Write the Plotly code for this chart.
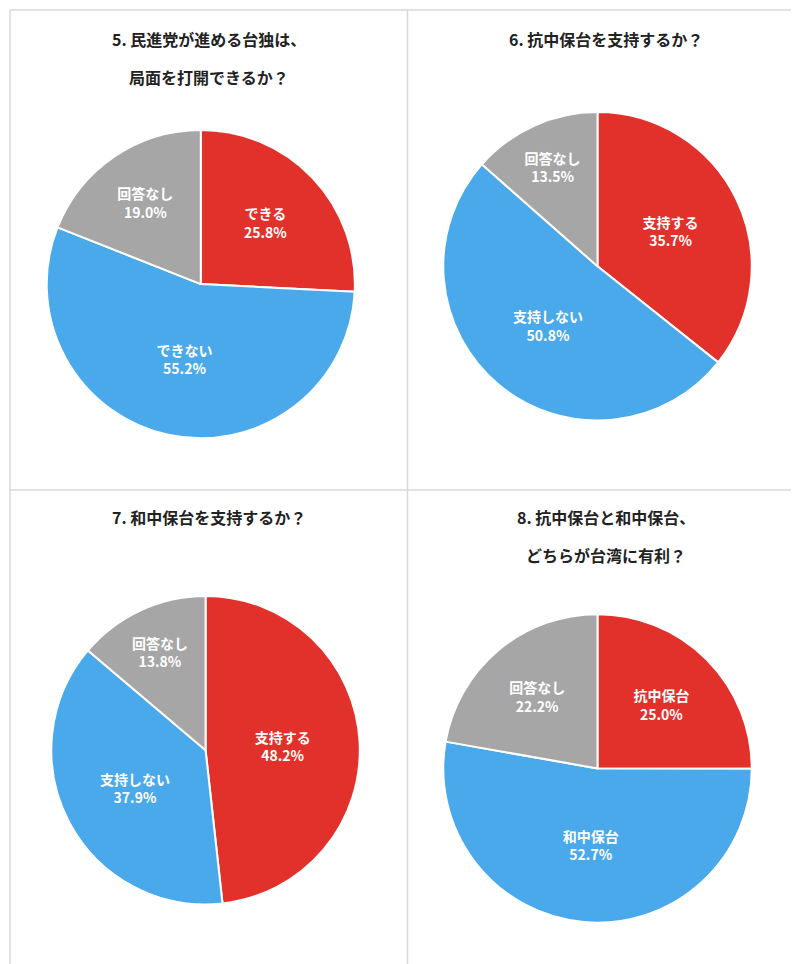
import plotly.graph_objects as go

FONT = "Noto Sans CJK JP"
RED, BLUE, GREY = "#E2312A", "#4AA9EA", "#A6A6A6"

titles = [
    ["5. 民進党が進める台独は、", "局面を打開できるか？"],
    ["6. 抗中保台を支持するか？"],
    ["7. 和中保台を支持するか？"],
    ["8. 抗中保台と和中保台、", "どちらが台湾に有利？"],
]
labels_5 = ["できる", "できない", "回答なし"]
values_5 = [25.8, 55.2, 19.0]
labels_6 = ["支持する", "支持しない", "回答なし"]
values_6 = [35.7, 50.8, 13.5]
labels_7 = ["支持する", "支持しない", "回答なし"]
values_7 = [48.2, 37.9, 13.8]
labels_8 = ["抗中保台", "和中保台", "回答なし"]
values_8 = [25.0, 52.7, 22.2]

panels = [
    (labels_5, values_5, [0.046, 0.434], [0.554, 0.875]),
    (labels_6, values_6, [0.545, 0.933], [0.572, 0.894]),
    (labels_7, values_7, [0.052, 0.440], [0.068, 0.390]),
    (labels_8, values_8, [0.545, 0.933], [0.049, 0.371]),
]

fig = go.Figure()
for labels, values, dx, dy in panels:
    fig.add_pie(
        labels=labels, values=values, sort=False, direction="clockwise",
        domain=dict(x=dx, y=dy),
        marker=dict(colors=[RED, BLUE, GREY], line=dict(color="white", width=2)),
        texttemplate="<b>%{label}<br>%{value:.1f}%</b>", textposition="inside",
        insidetextorientation="horizontal",
        textfont=dict(family=FONT, size=14, color="white"),
        hoverinfo="label+value", showlegend=False,
    )

title_pos = [(0.25, 0.97), (0.75, 0.97), (0.25, 0.472), (0.75, 0.472)]
annotations = []
for lines, (x, y) in zip(titles, title_pos):
    for i, t in enumerate(lines):
        annotations.append(dict(
            text=f"<b>{t}</b>", x=x, y=y - i * 0.04, xref="paper", yref="paper",
            xanchor="center", yanchor="middle", showarrow=False,
            font=dict(family=FONT, size=16, color="#222222")))

line = dict(color="#D9D9D9", width=1.5)
shapes = [
    dict(type="line", xref="paper", yref="paper", x0=0.5, x1=0.5, y0=0, y1=1, line=line),
    dict(type="line", xref="paper", yref="paper", x0=0, x1=1, y0=0.5, y1=0.5, line=line),
    dict(type="rect", xref="paper", yref="paper", x0=0, x1=1, y0=0, y1=1, line=line),
]

fig.update_layout(
    width=799, height=964,
    margin=dict(l=2, r=2, t=2, b=2),
    paper_bgcolor="white", plot_bgcolor="white",
    annotations=annotations, shapes=shapes,
    font=dict(family=FONT),
)
fig.write_html("out.html")
